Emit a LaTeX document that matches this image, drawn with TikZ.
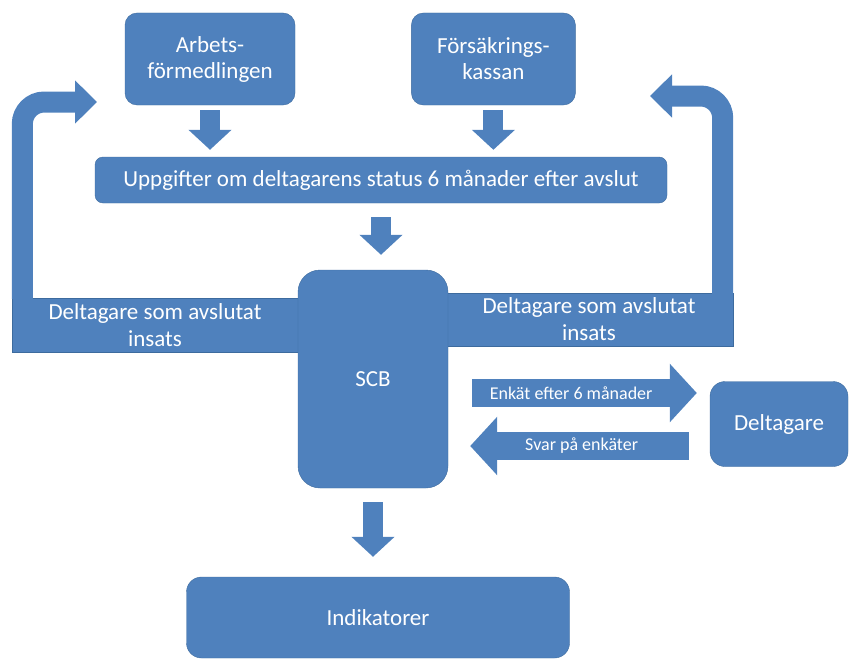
\documentclass[tikz,border=0pt]{standalone}
\usepackage{fontspec}
\setmainfont{Carlito}
\usetikzlibrary{positioning, arrows.meta}
\definecolor{boxblue}{HTML}{4F81BD}
\definecolor{boxedge}{HTML}{3D6B9E}

\begin{document}
\begin{tikzpicture}[
        x=1pt, y=-1pt,
        box/.style={draw=boxedge, fill=boxblue, rounded corners=12pt, align=center, text=white, font=\fontsize{23}{26}\selectfont, inner sep=2pt},
        band/.style={draw=boxedge, fill=boxblue, align=center, text=white, font=\fontsize{23}{27}\selectfont, inner sep=2pt},
        downarrow/.style={boxblue, line width=20pt, -{Triangle[length=20pt, width=42pt]}},
        sidearrow/.style={boxblue, line width=28pt, -{Triangle[length=27pt, width=57pt]}},
        looparrow/.style={boxblue, line width=21pt, rounded corners=22pt, -{Triangle[length=22pt, width=42pt]}},
        small/.style={text=white, font=\fontsize{18}{20}\selectfont}
      ]
      \useasboundingbox (0,0) rectangle (851,661);

      % bands that run back to the sources
      \node[band, minimum width=286pt, minimum height=54pt] (leftband) at (155,325) {Deltagare som avslutat\\insats};
      \node[band, minimum width=288pt, minimum height=53pt] (rightband) at (589,319.5) {Deltagare som avslutat\\insats};
      \coordinate (ltip) at (97,102);
      \coordinate (rtip) at (650,96);
      \draw[looparrow] ([xshift=10.5pt, yshift=-1pt]leftband.north west) |- (ltip);
      \draw[looparrow] ([xshift=-10.5pt, yshift=-1pt]rightband.north east) |- (rtip);

      % sources
      \node[box, minimum width=170pt, minimum height=92pt] (arbets) at (210,59) {Arbets-\\förmedlingen};
      \node[box, minimum width=164pt, minimum height=92pt, right=116pt of arbets] (forsak) {Försäkrings-\\kassan};

      \node[box, rounded corners=8pt, minimum width=572pt, minimum height=46pt] (uppg) at (381,180) {Uppgifter om deltagarens status 6 månader efter avslut};

      % SCB and the rest
      \node[box, rounded corners=22pt, minimum width=150pt, minimum height=218pt] (scb) at (373,379) {SCB};
      \node[box, rounded corners=15pt, minimum width=138pt, minimum height=85pt] (delt) at (779,424) {Deltagare};
      \node[box, rounded corners=15pt, minimum width=383pt, minimum height=81pt] (indik) at (378,617.5) {Indikatorer};

      % down arrows
      \draw[downarrow, shorten <=5pt, shorten >=7pt] (arbets) -- (arbets.south |- uppg.north);
      \draw[downarrow, shorten <=5pt, shorten >=7pt] (forsak) -- (forsak.south |- uppg.north);
      \draw[downarrow, shorten <=14pt, shorten >=15pt] (uppg.south) -- (uppg.south |- scb.north);
      \draw[downarrow, shorten <=14pt, shorten >=20pt] (scb) -- (scb.south |- indik.north);

      % survey
      \coordinate (enkS) at ([yshift=-14pt]scb.east);
      \coordinate (svarS) at ([yshift=-22pt]delt.west);
      \draw[sidearrow, shorten <=24pt, shorten >=13pt] (enkS) -- (enkS -| delt.west) node[small, pos=.47] (enktext) {Enkät efter 6 månader};
      \draw[sidearrow, shorten <=21pt, shorten >=22pt] (svarS) -- (svarS -| scb.east) node[small, pos=.49] (svartext) {Svar på enkäter};

      \end{tikzpicture}
\end{document}
